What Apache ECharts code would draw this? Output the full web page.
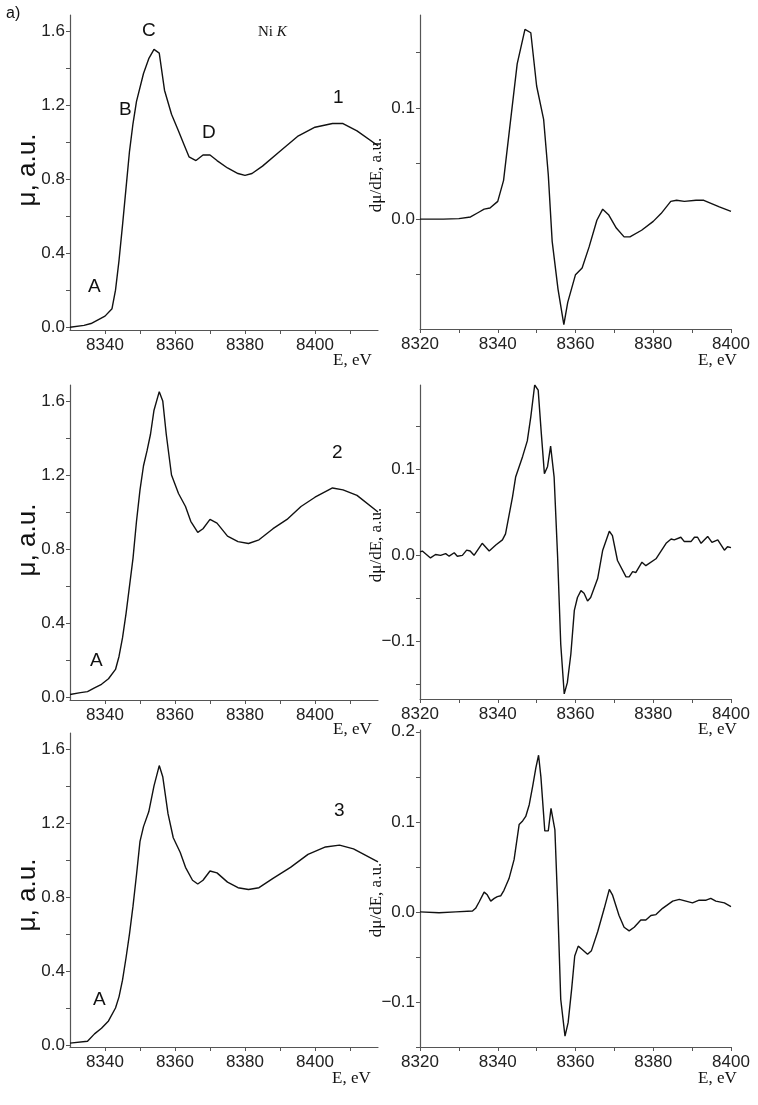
<!DOCTYPE html>
<html><head><meta charset="utf-8">
<script src="https://cdn.jsdelivr.net/npm/echarts@6/dist/echarts.min.js"></script>
<style>html,body{margin:0;padding:0;background:#fff}#c{width:758px;height:1105px}</style>
</head><body><div id="c"></div>
<script>
// Left panels: mu(E)
const mu1 = [[8330,0.0],[8334,0.01],[8336,0.02],[8338,0.04],[8340,0.06],[8342,0.1],[8343,0.2],[8344,0.36],[8345,0.55],[8346,0.75],[8347,0.95],[8348,1.1],[8349,1.22],[8351,1.37],[8352.5,1.45],[8354,1.5],[8355.5,1.48],[8357,1.28],[8359,1.15],[8361,1.06],[8362.5,0.99],[8364,0.92],[8366,0.9],[8368,0.93],[8370,0.93],[8372,0.9],[8375,0.86],[8378,0.83],[8380,0.82],[8382,0.83],[8385,0.87],[8390,0.95],[8395,1.03],[8400,1.08],[8405,1.1],[8408,1.1],[8412,1.06],[8418,0.98]];
const mu2 = [[8330,0.015],[8333,0.025],[8335,0.03],[8337,0.05],[8339,0.07],[8341,0.1],[8343,0.15],[8344,0.22],[8345,0.32],[8346,0.45],[8347,0.6],[8348,0.75],[8349,0.95],[8350,1.12],[8351,1.25],[8352,1.33],[8353,1.42],[8354,1.55],[8355.5,1.65],[8356.5,1.6],[8357.5,1.42],[8359,1.2],[8361,1.1],[8363,1.03],[8364.5,0.95],[8366.5,0.89],[8368,0.91],[8370,0.96],[8372,0.94],[8375,0.87],[8378,0.84],[8381,0.83],[8384,0.85],[8388,0.91],[8392,0.96],[8396,1.03],[8400,1.08],[8405,1.13],[8408,1.12],[8412,1.09],[8418,1.0]];
const mu3 = [[8330,0.01],[8335,0.02],[8337,0.06],[8339,0.09],[8341,0.13],[8343,0.2],[8344,0.26],[8345,0.35],[8346,0.47],[8347,0.6],[8348,0.75],[8349,0.92],[8350,1.1],[8351,1.18],[8352.5,1.26],[8354,1.4],[8355.5,1.51],[8356.5,1.45],[8358,1.25],[8359.5,1.12],[8361.5,1.04],[8363,0.96],[8365,0.89],[8366.5,0.87],[8368,0.89],[8370,0.94],[8372,0.93],[8375,0.88],[8378,0.85],[8381,0.84],[8384,0.85],[8388,0.9],[8393,0.96],[8398,1.03],[8403,1.07],[8407,1.08],[8411,1.06],[8418,0.99]];
// Right panels: derivative
const d1 = [[8320,0],[8326,0],[8330,0.0005],[8333,0.002],[8335,0.006],[8336.5,0.009],[8338,0.01],[8340,0.016],[8341.5,0.035],[8343,0.08],[8345,0.14],[8347,0.171],[8348.5,0.168],[8350,0.12],[8351.8,0.09],[8353,0.04],[8354,-0.02],[8355.5,-0.063],[8357,-0.095],[8358,-0.075],[8360,-0.05],[8361.7,-0.044],[8363.5,-0.025],[8365.5,-0.001],[8367,0.009],[8368.5,0.004],[8370.5,-0.008],[8372.5,-0.016],[8374,-0.016],[8377,-0.01],[8380,-0.002],[8382,0.005],[8384.5,0.016],[8386,0.017],[8388,0.016],[8391,0.017],[8393,0.017],[8395,0.014],[8397,0.011],[8400,0.007]];
const d2 = [[8320,0.004],[8320.6,0.005],[8322.7,-0.003],[8324,0.001],[8325.3,0],[8326.6,0.002],[8327.5,-0.001],[8328.8,0.003],[8329.6,-0.001],[8330.9,0],[8332,0.006],[8332.9,0.005],[8333.9,0],[8336,0.014],[8337.8,0.005],[8339.5,0.012],[8341.2,0.018],[8342,0.025],[8343.8,0.068],[8344.6,0.091],[8346.4,0.115],[8347.6,0.133],[8348.5,0.161],[8349.5,0.198],[8350.4,0.192],[8351.2,0.142],[8352,0.095],[8352.8,0.103],[8353.6,0.127],[8354.5,0.091],[8355.4,-0.002],[8356.2,-0.103],[8357.1,-0.161],[8357.9,-0.148],[8358.8,-0.115],[8359.7,-0.064],[8360.5,-0.049],[8361.4,-0.041],[8362.2,-0.044],[8363.1,-0.053],[8363.9,-0.049],[8365.7,-0.027],[8367,0.006],[8368.7,0.028],[8369.5,0.023],[8370.8,-0.006],[8373,-0.025],[8373.8,-0.025],[8374.7,-0.019],[8375.5,-0.02],[8377.1,-0.008],[8378.1,-0.012],[8380.7,-0.004],[8383.3,0.014],[8384.6,0.019],[8385.4,0.018],[8387.1,0.021],[8388,0.016],[8389.7,0.016],[8390.6,0.021],[8391.4,0.021],[8392.3,0.014],[8394,0.022],[8395.1,0.015],[8396.6,0.018],[8398.3,0.006],[8399.1,0.01],[8400,0.009]];
const d3 = [[8320,0],[8324.9,-0.001],[8329.2,0],[8333.5,0.001],[8334.3,0.004],[8335.2,0.011],[8336.5,0.022],[8337.3,0.019],[8338.2,0.012],[8339.1,0.015],[8339.9,0.017],[8340.8,0.018],[8341.6,0.024],[8342.9,0.037],[8344.2,0.058],[8345.5,0.097],[8346.4,0.101],[8347.2,0.106],[8348.1,0.119],[8349,0.14],[8349.8,0.16],[8350.5,0.174],[8351.1,0.15],[8352.1,0.09],[8353,0.09],[8353.7,0.115],[8354.7,0.091],[8355.4,0.011],[8356.2,-0.097],[8357.3,-0.138],[8358.1,-0.123],[8359,-0.086],[8359.8,-0.049],[8360.7,-0.038],[8361.5,-0.041],[8363.1,-0.047],[8364.1,-0.043],[8365.7,-0.022],[8367.4,0.004],[8368.7,0.025],[8369.5,0.019],[8371.2,-0.004],[8372.5,-0.017],[8373.8,-0.021],[8375.1,-0.017],[8376.8,-0.009],[8378.1,-0.009],[8379.4,-0.004],[8380.7,-0.003],[8382.4,0.004],[8385,0.012],[8386.7,0.014],[8388.4,0.012],[8390.1,0.01],[8391.8,0.013],[8393.6,0.013],[8394.8,0.015],[8396.1,0.012],[8398.3,0.01],[8400,0.006]];

const leftXLabels = [8340,8360,8380,8400];
const leftXTicks = [8340,8350,8360,8370,8380,8390,8400,8410];
const rightXLabels = [8320,8340,8360,8380,8400];
const rightXTicks = [8320,8330,8340,8350,8360,8370,8380,8390,8400];
const muLabels = [0,0.4,0.8,1.2,1.6];
const muTicks = [0,0.2,0.4,0.6,0.8,1.0,1.2,1.4,1.6];
const dLabels1 = [0,0.1];
const dTicks1 = [-0.05,0,0.05,0.1,0.15];
const dLabels2 = [-0.1,0,0.1];
const dTicks2 = [-0.15,-0.1,-0.05,0,0.05,0.1,0.15];
const dLabels3 = [-0.1,0,0.1,0.2];
const dTicks3 = [-0.15,-0.1,-0.05,0,0.05,0.1,0.15,0.2];

const panels = [
 {data:mu1,grid:{left:70,width:308,top:15,height:315},x:[8330,8418,leftXLabels,leftXTicks],y:[-0.015,1.686,muLabels,muTicks]},
 {data:d1,grid:{left:420,width:311,top:15,height:314},x:[8320,8400,rightXLabels,rightXTicks],y:[-0.099,0.184,dLabels1,dTicks1]},
 {data:mu2,grid:{left:70,width:308,top:385,height:315},x:[8330,8418,leftXLabels,leftXTicks],y:[-0.015,1.686,muLabels,muTicks]},
 {data:d2,grid:{left:420,width:311,top:385,height:314},x:[8320,8400,rightXLabels,rightXTicks],y:[-0.167,0.198,dLabels2,dTicks2]},
 {data:mu3,grid:{left:70,width:308,top:733,height:314},x:[8330,8418,leftXLabels,leftXTicks],y:[-0.011,1.686,muLabels,muTicks]},
 {data:d3,grid:{left:420,width:311,top:730,height:317},x:[8320,8400,rightXLabels,rightXTicks],y:[-0.15,0.202,dLabels3,dTicks3]}
];
const axCol='#555', txtCol='#222';
const fmt = (v,dec)=> v<0 ? '\u2212'+Math.abs(v).toFixed(dec) : v.toFixed(dec);
const option = {animation:false, grid:[], xAxis:[], yAxis:[], series:[], graphic:[]};
panels.forEach((p,i)=>{
  option.grid.push(Object.assign({containLabel:false},p.grid));
  option.xAxis.push({type:'value',gridIndex:i,min:p.x[0],max:p.x[1],splitLine:{show:false},
    axisLine:{onZero:false,lineStyle:{color:axCol,width:1.2}},
    axisTick:{customValues:p.x[3],length:4,lineStyle:{color:axCol}},
    axisLabel:{customValues:p.x[2],fontFamily:'Liberation Sans, Arial',fontSize:17,color:txtCol,margin:7,formatter:v=>String(v)}});
  option.yAxis.push({type:'value',gridIndex:i,min:p.y[0],max:p.y[1],splitLine:{show:false},
    axisLine:{show:true,onZero:false,lineStyle:{color:axCol,width:1.2}},
    axisTick:{show:true,customValues:p.y[3],length:4,lineStyle:{color:axCol}},
    axisLabel:{customValues:p.y[2],fontFamily:'Liberation Sans, Arial',fontSize:17,color:txtCol,margin:5,
      formatter:v=>fmt(v,1)}});
  option.series.push({type:'line',xAxisIndex:i,yAxisIndex:i,data:p.data,showSymbol:false,
    lineStyle:{color:'#111',width:1.4},smooth:false});
});
const T=(x,y,text,opt)=>Object.assign({type:'text',x:x,y:y,style:Object.assign({text:text,fill:'#111',font:'19px Liberation Sans, Arial'},opt||{})});
const serif='17px Liberation Serif, Times New Roman';
const g = option.graphic;
g.push(T(6,6,'a)',{font:'16px Liberation Sans, Arial'}));
g.push({type:'text',x:258,y:25,style:{rich:{a:{font:'15px Liberation Serif'},b:{font:'italic 15px Liberation Serif'}},text:'{a|Ni }{b|K}',fill:'#111'}});
[[88,277,'A'],[119,100,'B'],[142,21,'C'],[202,123,'D'],[333,88,'1'],[90,651,'A'],[332,443,'2'],[93,990,'A'],[334,801,'3']].forEach(a=>g.push(T(a[0],a[1],a[2])));
[170,540,895].forEach(cy=>{
  g.push({type:'text',x:28,y:cy,rotation:Math.PI/2,originX:0,originY:0,style:{text:'\u03bc, a.u.',font:'26px Liberation Sans, Arial',fill:'#111',align:'center',verticalAlign:'middle'}});
  g.push({type:'text',x:377,y:cy+5,rotation:Math.PI/2,originX:0,originY:0,style:{text:'d\u03bc/dE, a.u.',font:serif,fill:'#111',align:'center',verticalAlign:'middle'}});
});
[[333,352],[698,352],[333,721],[698,721],[332,1070],[698,1070]].forEach(a=>g.push(T(a[0],a[1],'E, eV',{font:serif,align:'left'})));
echarts.init(document.getElementById('c')).setOption(option);
</script></body></html>
